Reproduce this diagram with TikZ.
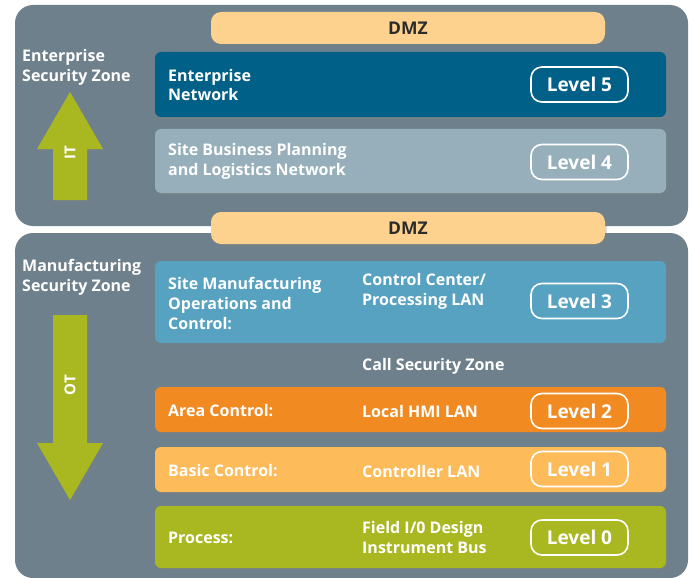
\documentclass[tikz,border=0pt]{standalone}
\usepackage{fontspec}
\setmainfont{Open Sans}
\usepackage{tikz}
\usetikzlibrary{positioning,shadows}
\definecolor{zonegray}{HTML}{6E808B}
\definecolor{dmzorange}{HTML}{FDD28E}
\definecolor{dmztext}{HTML}{2B2B2B}
\definecolor{lvfive}{HTML}{006087}
\definecolor{lvfour}{HTML}{97AFBB}
\definecolor{lvthree}{HTML}{57A2C1}
\definecolor{lvtwo}{HTML}{F18A21}
\definecolor{lvone}{HTML}{FDBB59}
\definecolor{lvzero}{HTML}{A9B821}

\begin{document}
\begin{tikzpicture}[x=1pt,y=-1pt,
    zone/.style={fill=zonegray,rounded corners=18pt},
    dmzbox/.style={fill=dmzorange,rounded corners=10pt,minimum width=394pt,minimum height=32pt,
      text=dmztext,font=\bfseries\fontsize{17.5}{20}\selectfont,
      drop shadow={opacity=0.35,shadow xshift=1.5pt,shadow yshift=-2pt}},
    lvlbox/.style={rounded corners=6pt,minimum width=511pt,
      drop shadow={opacity=0.35,shadow xshift=1.5pt,shadow yshift=-2pt}},
    lvlpill/.style={draw=white,line width=1.6pt,rounded corners=11pt,minimum width=97pt,
      minimum height=35pt,text=white,font=\bfseries\fontsize{19}{22}\selectfont},
    lbl/.style={text=white,anchor=west,align=left,inner sep=0pt,
      font=\bfseries\fontsize{16}{20}\selectfont},
    arrowlbl/.style={text=white,rotate=90,inner sep=0pt,font=\bfseries\fontsize{15}{16}\selectfont}]
    \useasboundingbox (0,0) rectangle (689,578);

    % the two security zones
    \fill[zone] (15,5) rectangle (688,226);
    \fill[zone] (15,233) rectangle (688,578);

    % DMZ bars
    \node[dmzbox] (dmztop) at (408,28) {DMZ};
    \node[dmzbox] (dmzmid) at (408,228) {DMZ};

    % IT levels
    \node[lvlbox,fill=lvfive,minimum height=65pt] (l5) at (410.5,84.5) {};
    \node[lvlbox,fill=lvfour,minimum height=64pt] (l4) at (410.5,161) {};
    \node[lbl] (l5txt) at (168,85) {Enterprise\\Network};
    \node[lbl] (l4txt) at (168,161) {Site Business Planning\\and Logistics Network};
    \node[lvlpill] (p5) at (579.5,84.5) {Level 5};
    \node[lvlpill] (p4) at (579.5,162) {Level 4};

    % OT levels
    \node[lvlbox,fill=lvthree,minimum height=82pt] (l3) at (410.5,302) {};
    \node[lvlbox,fill=lvtwo,minimum height=45pt] (l2) at (410.5,409.5) {};
    \node[lvlbox,fill=lvone,minimum height=45pt] (l1) at (410.5,469.5) {};
    \node[lvlbox,fill=lvzero,minimum height=62pt] (l0) at (410.5,537) {};
    \node[lbl] (l3txt) at (168,303) {Site Manufacturing\\Operations and\\Control:};
    \node[lbl] (l3net) at (362,291) {Control Center/\\Processing LAN};
    \node[lbl] (cellzone) at (362,366) {Call Security Zone};
    \node[lbl] (l2txt) at (168,411) {Area Control:};
    \node[lbl] (l2net) at (362,411) {Local HMI LAN};
    \node[lbl] (l1txt) at (168,471) {Basic Control:};
    \node[lbl] (l1net) at (362,471) {Controller LAN};
    \node[lbl] (l0txt) at (168,538) {Process:};
    \node[lbl] (l0net) at (362,537) {Field I/0 Design\\Instrument Bus};
    \node[lvlpill] (p3) at (579.5,301) {Level 3};
    \node[lvlpill] (p2) at (579.5,411) {Level 2};
    \node[lvlpill] (p1) at (579.5,469) {Level 1};
    \node[lvlpill] (p0) at (579.5,537.5) {Level 0};

    % zone titles and arrows
    \node[lbl] (itzone) at (22,67) {Enterprise\\Security Zone};
    \node[lbl] (otzone) at (22,277) {Manufacturing\\Security Zone};
    \fill[lvzero,drop shadow={opacity=0.35,shadow xshift=2pt,shadow yshift=-2pt}]
      (53,200) -- (53,149) -- (37,149) -- (70,92) -- (103,149) -- (87,149) -- (87,200) -- cycle;
    \fill[lvzero,drop shadow={opacity=0.35,shadow xshift=2pt,shadow yshift=-2pt}]
      (53,315) -- (53,443) -- (37,443) -- (70,500) -- (103,443) -- (87,443) -- (87,315) -- cycle;
    \node[arrowlbl] (itlbl) at (70,153) {IT};
    \node[arrowlbl] (otlbl) at (70,385) {OT};
\end{tikzpicture}
\end{document}
